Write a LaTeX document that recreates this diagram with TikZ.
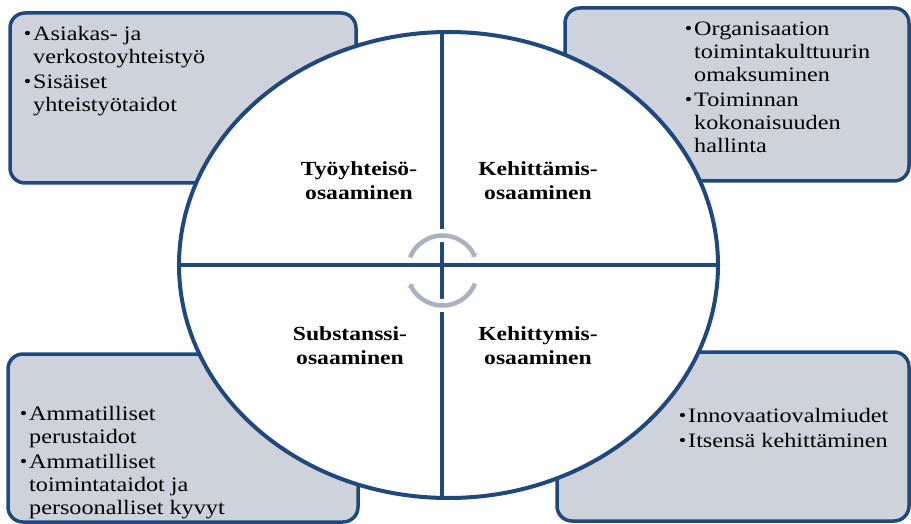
\documentclass[tikz,border=0pt]{standalone}
\usepackage{fontspec}
\setmainfont{Liberation Serif}[FakeStretch=1.18]
\usetikzlibrary{arrows.meta}

\definecolor{rim}{RGB}{31,73,125}
\definecolor{panel}{RGB}{206,211,219}
\definecolor{cyclegray}{RGB}{170,178,192}

% raised bullet hanging left of the item text
\newcommand\bul{\llap{\raisebox{1pt}{\fontsize{18}{18}\selectfont\textbullet}\hspace{2pt}}}

\begin{document}
\begin{tikzpicture}[x=1pt,y=-1pt,
  panelbox/.style={draw=rim, line width=3.5pt, fill=panel, rounded corners=15pt},
  ring/.style={draw=rim, line width=4pt, fill=white},
  divider/.style={draw=rim, line width=4pt},
  itemtext/.style={anchor=north west, inner sep=0pt, align=left,
    font=\fontsize{20.5}{23}\selectfont},
  areatext/.style={anchor=north, inner sep=0pt, align=center,
    font=\fontsize{20}{24}\selectfont\bfseries},
  cyclecase/.style={draw=white, line width=13pt},
  cyclearc/.style={draw=cyclegray, line width=4.5pt,
    -{Triangle[length=3pt,width=8pt]}}
]
\useasboundingbox (0,0) rectangle (911,524);

% four corner panels
\draw[panelbox] (10,13) rectangle (356,183);
\draw[panelbox] (565,8) rectangle (909,181);
\draw[panelbox] (8,354) rectangle (358,522);
\draw[panelbox] (557,352) rectangle (909,521);

% central oval split into quadrants
\draw[ring] (448.5,265) ellipse [x radius=269.5, y radius=233];
\coordinate (w) at (179,265);
\coordinate (e) at (718,265);
\coordinate (n) at (441.5,32);
\coordinate (s) at (441.5,498);
\draw[divider] (w) -- (e);
\draw[divider] (n) -- (s);

% cycle arrows at the centre
\coordinate (hub) at (442.5,270.5);
\draw[cyclecase] (hub) ++(202:35) arc[start angle=202, end angle=338, radius=35];
\draw[cyclecase] (hub) ++(22:35) arc[start angle=22, end angle=158, radius=35];
\draw[cyclearc] (hub) ++(202:35) arc[start angle=202, end angle=338, radius=35];
\draw[cyclearc] (hub) ++(22:35) arc[start angle=22, end angle=158, radius=35];

% quadrant titles
\node[areatext] (q1) at (359,161) {Työyhteisö-\\osaaminen};
\node[areatext] (q2) at (538,161) {Kehittämis-\\osaaminen};
\node[areatext] (q3) at (350,326) {Substanssi-\\osaaminen};
\node[areatext] (q4) at (538,326) {Kehittymis-\\osaaminen};

% panel contents
\node[itemtext] (tltext) at (33,26)
  {\bul Asiakas- ja\\ verkostoyhteistyö\\[2pt] \bul Sisäiset\\ yhteistyötaidot};
\node[itemtext] (trtext) at (694,22)
  {\bul Organisaation\\ toimintakulttuurin\\ omaksuminen\\[2pt] \bul Toiminnan\\ kokonaisuuden\\ hallinta};
\node[itemtext] (bltext) at (29,406)
  {\bul Ammatilliset\\ perustaidot\\[2pt] \bul Ammatilliset\\ toimintataidot ja\\ persoonalliset kyvyt};
\node[itemtext] (brtext) at (688,408)
  {\bul Innovaatiovalmiudet\\[2pt] \bul Itsensä kehittäminen};
\end{tikzpicture}
\end{document}
